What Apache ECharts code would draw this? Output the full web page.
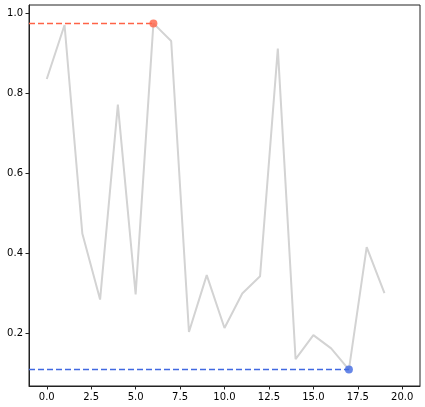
<!DOCTYPE html>
<html>
<head>
<meta charset="utf-8">
<script src="https://cdn.jsdelivr.net/npm/echarts@6/dist/echarts.min.js"></script>
<style>
    html, body { margin: 0; padding: 0; background: #fff; }
    #chart { width: 425px; height: 407px; }
</style>
</head>
<body>
<div id="chart"></div>
<script>
// values
const xValues = [0, 1, 2, 3, 4, 5, 6, 7, 8, 9, 10, 11, 12, 13, 14, 15, 16, 17, 18, 19]
const yValues = [0.836, 0.971, 0.45, 0.285, 0.772, 0.298, 0.975, 0.931, 0.204, 0.346,
    0.214, 0.30, 0.343, 0.912, 0.136, 0.196, 0.163, 0.110, 0.416, 0.301]
const xTicks = [0, 2.5, 5, 7.5, 10, 12.5, 15, 17.5, 20]
const yTicks = [0.2, 0.4, 0.6, 0.8, 1.0]

const xMin = -1.0
const xMax = 21.0
const yMin = 0.069
const yMax = 1.021

//找最大最小
let maxIdx = 0, minIdx = 0
yValues.forEach((v, i) => {
    if (v > yValues[maxIdx]) maxIdx = i
    if (v < yValues[minIdx]) minIdx = i
})

const chart = echarts.init(document.getElementById("chart"), null, {renderer: "canvas"})

const labelStyle = {
    color: "#000",
    fontSize: 10,
    fontFamily: "DejaVu Sans"
}

const option = {
    animation: false,
    grid: {
        left: 29,
        right: 5,
        top: 5,
        bottom: 21,
        show: true,
        borderColor: "#222",
        borderWidth: 1
    },
    xAxis: {
        type: "value",
        min: xMin,
        max: xMax,
        splitLine: {show: false},
        axisLine: {show: true, onZero: false, lineStyle: {color: "#222"}},
        axisTick: {show: true, customValues: xTicks, length: 3.5, lineStyle: {color: "#222"}},
        axisLabel: Object.assign({
            customValues: xTicks,
            margin: 6,
            formatter: v => v.toFixed(1)
        }, labelStyle)
    },
    yAxis: {
        type: "value",
        min: yMin,
        max: yMax,
        splitLine: {show: false},
        axisLine: {show: true, onZero: false, lineStyle: {color: "#222"}},
        axisTick: {show: true, customValues: yTicks, length: 3.5, lineStyle: {color: "#222"}},
        axisLabel: Object.assign({
            customValues: yTicks,
            margin: 6,
            formatter: v => v.toFixed(1)
        }, labelStyle)
    },
    series: [
        {
            type: "line",
            data: xValues.map((x, i) => [x, yValues[i]]),
            showSymbol: false,
            lineStyle: {color: "#d3d3d3", width: 2},
            z: 2
        },
        {
            type: "line",
            data: [[xMin, yValues[maxIdx]], [xValues[maxIdx], yValues[maxIdx]]],
            showSymbol: false,
            lineStyle: {color: "#ff6347", width: 1.5, type: [6, 3]},
            z: 3
        },
        {
            type: "line",
            data: [[xMin, yValues[minIdx]], [xValues[minIdx], yValues[minIdx]]],
            showSymbol: false,
            lineStyle: {color: "#4169e1", width: 1.5, type: [6, 3]},
            z: 3
        },
        {
            type: "scatter",
            data: [[xValues[maxIdx], yValues[maxIdx]]],
            symbolSize: 8,
            itemStyle: {color: "#ff6347"},
            z: 4
        },
        {
            type: "scatter",
            data: [[xValues[minIdx], yValues[minIdx]]],
            symbolSize: 8,
            itemStyle: {color: "#4169e1"},
            z: 4
        }
    ]
}

chart.setOption(option)
</script>
</body>
</html>
